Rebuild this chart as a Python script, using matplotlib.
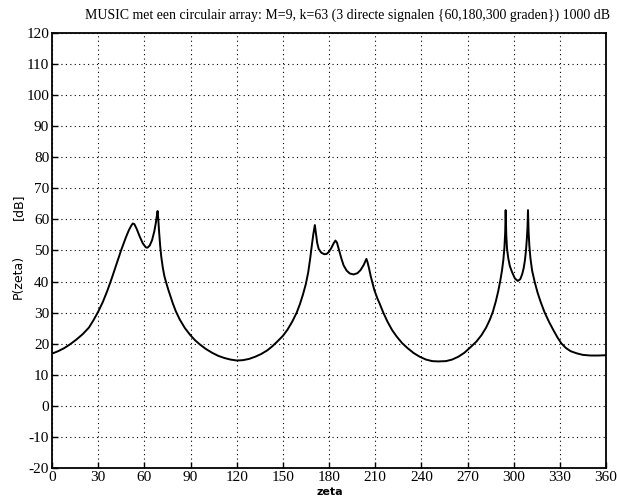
import matplotlib
matplotlib.use("Agg")
import matplotlib.pyplot as plt

title = "MUSIC met een circulair array: M=9, k=63 (3 directe signalen {60,180,300 graden}) 1000 dB"
xlabel = "zeta"
ylabel_name = "P(zeta)"
ylabel_unit = "[dB]"
xticks = list(range(0, 361, 30))
yticks = list(range(-20, 121, 10))

zeta = [0, 4, 8, 12, 16, 20, 24, 27, 30, 33, 36, 39, 42, 45, 48, 50, 51.5, 52.5, 53.5, 55, 57, 59,
        61, 62, 63.5, 65, 66.5, 67.5, 68.2, 68.6, 69, 69.6, 70.3, 71, 72, 73, 74, 75.5, 77, 78.5,
        80.5, 83, 86.4, 90, 93, 96, 100, 104, 108, 112, 116, 120, 124, 128, 132, 136, 140, 143,
        146, 150, 153, 156, 159, 161, 163, 165, 166.5, 167.8, 168.8, 169.8, 170.8, 171.5, 172.3,
        173.3, 175, 177, 178.5, 180, 181.5, 183, 184.2, 185.2, 186.5, 188, 189.5, 191.5, 193.5,
        196, 198.5, 200.5, 202.5, 203.8, 204.3, 205, 206, 207, 208, 209.5, 211.5, 213, 215.2,
        218, 221, 224, 227.5, 231, 235, 239, 243, 247, 251, 256, 260, 264, 268, 272, 275.8, 279,
        282, 284.5, 286.5, 288.5, 290, 291.3, 292.4, 293.3, 294, 294.5, 294.8, 295.2, 295.7,
        296.5, 297.5, 299, 300.8, 302.7, 304.3, 305.5, 306.5, 307.3, 308, 308.6, 309.0, 309.3,
        309.7, 310.2, 310.9, 312, 313.6, 315.5, 317.5, 320, 323, 326, 328.5, 331, 334, 337, 341,
        345, 350, 355, 360]
p_db = [16.8, 17.6, 18.6, 19.9, 21.4, 23.1, 25.2, 27.6, 30.3, 33.4, 37.1, 41.3, 45.8, 50.2, 54.2, 56.6, 58, 58.7, 58.5, 57, 54.5, 52.3,
        51, 50.9, 51.6, 53.3, 56.2, 59, 61.5, 62.7, 60.5, 56, 51.5, 48, 44.5, 41.8, 40, 37.5, 35.2, 33,
        30.4, 27.8, 25, 22.7, 21.1, 19.8, 18.3, 17.1, 16.1, 15.4, 14.9, 14.6, 14.7, 15.1, 15.8, 16.7, 17.9, 19.1,
        20.5, 22.5, 24.5, 27, 30, 32.6, 35.7, 39.3, 43, 47.5, 51.5, 55.2, 58.2, 55.5, 52.5,
        50.5, 49.3, 48.8, 48.9, 49.6, 50.8, 52.3, 53.2, 52.5, 50.2, 47.5, 45.2, 43.5, 42.6,
        42.3, 42.7, 43.7, 45.3, 46.8, 47.3, 46.3, 44.3, 42, 40, 37.2, 34.5, 32.8, 30.1,
        27.1, 24.4, 22.3, 20.2, 18.6, 17, 15.8, 14.9, 14.4, 14.3, 14.4, 14.9, 15.8, 17.1, 18.9, 20.7, 22.7,
        25.1, 27.7, 30.3, 33.8, 37, 40.3, 43.5, 47, 51, 56, 63, 55, 50.5,
        47.5, 45, 43, 41, 40.2, 40.8, 42.3, 44.3, 46.8, 50, 54, 57.5, 63,
        56, 51.5, 47.5, 43.5, 40, 36.5, 33.5, 30.2, 27, 24.2, 22, 20.1, 18.6, 17.6, 16.9,
        16.4, 16.2, 16.2, 16.3]

fig = plt.figure(figsize=(6.17, 4.97), dpi=100)
ax = fig.add_axes([52/617, 1-468/497, (606-52)/617, (468-33)/497])
ax.plot(zeta, p_db, color="black", lw=1.4, solid_joinstyle="round")
ax.set_xlim(0, 360)
ax.set_ylim(-20, 120)
ax.set_xticks(xticks)
ax.set_yticks(yticks)
serif = "Liberation Serif"
ax.set_xticklabels([str(t) for t in xticks], family=serif, fontsize=11)
ax.set_yticklabels([str(t) for t in yticks], family=serif, fontsize=11)
ax.tick_params(direction="in", length=4, width=1, pad=2, color="black")
ax.grid(True, linestyle=(0, (1, 3)), color="black", lw=0.8)
for s in ax.spines.values():
    s.set_linewidth(1.3)
fig.text(348/617, 1-15/497, title, ha="center", va="center", family=serif, fontsize=10)
fig.text(330/617, 1-492/497, xlabel, ha="center", va="center", family="DejaVu Sans", fontsize=8, fontweight="bold")
fig.text(18/617, 1-207/497, ylabel_unit, ha="center", va="center", rotation=90, family="DejaVu Sans", fontsize=9)
fig.text(18/617, 1-277/497, ylabel_name, ha="center", va="center", rotation=90, family="DejaVu Sans", fontsize=9)
fig.savefig("out.png", dpi=100)
